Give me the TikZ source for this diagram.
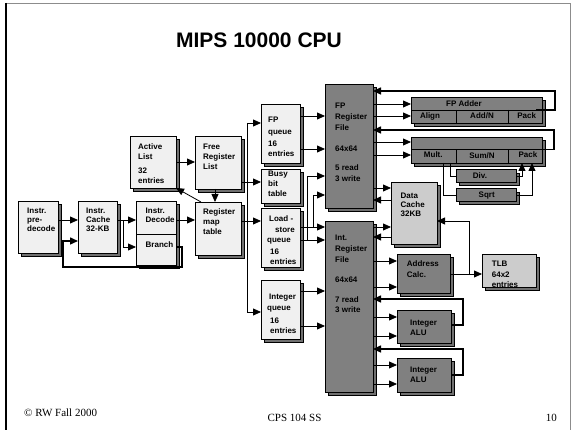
\documentclass[tikz,border=0pt]{standalone}
\usepackage{fontspec}
\setmainfont{Liberation Serif}
\newfontfamily\arialf{Liberation Sans}
\usetikzlibrary{arrows.meta,shadows}
\definecolor{light}{HTML}{F0F0F0}
\definecolor{unit}{HTML}{808080}
\definecolor{shad}{HTML}{707070}
\definecolor{cachec}{HTML}{CCCCCC}
\definecolor{framec}{HTML}{8C8C8C}
\newcommand\mkbox[6]{\node[#6, minimum width={(#4-#2)*1pt}, minimum height={(#5-#3)*1pt}] (#1) at ({(#2+#4)/2},{(#3+#5)/2}) {};}
\newcommand\boxtxt[4]{\node[txt] (#1) at (#2,#3) {\rule{0pt}{5.8pt}#4};}
\begin{document}
\begin{tikzpicture}[x=1pt,y=-1pt,
  base/.style={draw=black, line width=0.6pt, inner sep=0pt, outer sep=0pt},
  shd/.style={general shadow={fill=shad, draw=black, line width=0.6pt, shadow xshift=3.5pt, shadow yshift=-3.5pt}},
  lbox/.style={base, fill=light, shd},
  gbox/.style={base, fill=unit, shd},
  cbox/.style={base, fill=cachec, shd},
  txt/.style={font=\arialf\bfseries\fontsize{8}{10}\selectfont, align=left, inner sep=0pt, anchor=north west},
  ctxt/.style={font=\arialf\bfseries\fontsize{8}{10}\selectfont, inner sep=0pt, anchor=base},
  ln/.style={line width=0.8pt, draw=black},
  fb/.style={line width=1.5pt, draw=black},
  arr/.style={-{Triangle[length=8pt,width=7pt]}},
  foot/.style={font=\fontsize{11}{13}\selectfont, inner sep=0pt}
]
\useasboundingbox (0,0) rectangle (574,430);
% slide frame
\draw[framec, line width=1.5pt] (5.5,430) -- (5.5,3.5) -- (570.5,3.5) -- (570.5,430);
\draw[black, line width=2pt] (5.5,3) -- (5.5,430);

\node[font=\arialf\bfseries\fontsize{21}{24}\selectfont, anchor=base, inner sep=0pt] (title) at (259,47.5) {MIPS 10000 CPU};

% boxes
\mkbox{pre}{18}{201}{58}{253}{lbox}
\mkbox{cache}{78}{201}{117}{253}{lbox}
\mkbox{dec}{136}{201}{176}{265}{lbox}
\mkbox{act}{130}{136}{176}{188}{lbox}
\mkbox{frl}{195}{136}{241}{189}{lbox}
\mkbox{rmt}{195}{202}{241}{255}{lbox}
\mkbox{fpq}{261}{104}{300}{163}{lbox}
\mkbox{bbt}{261}{169}{300}{203}{lbox}
\mkbox{lsq}{261}{208}{300}{267}{lbox}
\mkbox{inq}{261}{280}{300}{339}{lbox}
\mkbox{fpr}{325}{84}{373}{208}{gbox}
\mkbox{inr}{325}{221}{373}{392}{gbox}
\mkbox{fpa}{411}{97}{542}{123}{gbox}
\mkbox{mul}{411}{137}{542}{163}{gbox}
\mkbox{div}{456}{169.5}{516}{182}{gbox}
\mkbox{sqr}{456}{188.5}{516}{201}{gbox}
\mkbox{dc}{391}{182}{437}{244}{cbox}
\mkbox{adr}{397}{254}{450}{293}{gbox}
\mkbox{tlb}{482}{254}{536}{287}{cbox}
\mkbox{alu1}{397}{310}{451}{343}{gbox}
\mkbox{alu2}{397}{358}{451}{392}{gbox}

% dividers
\draw[line width=0.6pt] (dec.west |- 0,234) -- (dec.east |- 0,234);
\draw[line width=0.6pt] (fpa.west |- 0,110) -- (fpa.east |- 0,110);
\draw[line width=0.6pt] (456,110) -- (fpa.south -| 456,0);
\draw[line width=0.6pt] (508,110) -- (fpa.south -| 508,0);
\draw[line width=0.6pt] (mul.west |- 0,149.5) -- (mul.east |- 0,149.5);
\draw[line width=0.6pt] (456,149.5) -- (mul.south -| 456,0);
\draw[line width=0.6pt] (508,149.5) -- (mul.south -| 508,0);

% texts
\boxtxt{tpre}{27}{208}{Instr.\\[-1pt]pre-\\[-1pt]decode}
\boxtxt{tcache}{86}{208}{Instr.\\[-1pt]Cache\\[-1pt]32-KB}
\boxtxt{tdec}{145.5}{208}{Instr.\\[-1pt]Decode}
\boxtxt{tbr}{145.5}{242}{Branch}
\boxtxt{tact}{138}{143.8}{Active\\List\\[4pt]32\\entries}
\boxtxt{tfrl}{203}{143.8}{Free\\Register\\List}
\boxtxt{trmt}{203}{208.8}{Register\\map\\table}
\boxtxt{tfpq}{268}{117}{FP\\[1.7pt]queue\\[1.6pt]16\\[0.7pt]entries}
\boxtxt{tbbt}{268}{170.4}{Busy\\bit\\table}
\boxtxt{tlsq}{267}{215.4}{\hspace{2pt}Load -\\[0.7pt]\hspace{8pt}store\\[0.3pt]queue\\[1.7pt]\hspace{3pt}16\\\hspace{3pt}entries}
\boxtxt{tinq}{267}{293.8}{\hspace{2pt}Integer\\[0.6pt]queue\\[2.7pt]\hspace{3pt}16\\\hspace{3pt}entries}
\boxtxt{tfpr}{335}{103}{FP\\[0.7pt]Register\\[1pt]File\\[10.6pt]64x64\\[9.4pt]5 read\\[1pt]3 write}
\boxtxt{tinr}{335}{234.8}{Int.\\[0.6pt]Register\\[0.7pt]File\\[10.3pt]64x64\\[9.7pt]7 read\\3 write}
\boxtxt{tdc}{400.5}{192.1}{Data\\[-1pt]Cache\\[-0.7pt]32KB}
\boxtxt{tadr}{406.7}{260.4}{Address\\[1pt]Calc.}
\boxtxt{ttlb}{491.7}{260.4}{TLB\\[0.7pt]64x2\\entries}
\boxtxt{talua}{410}{319.8}{Integer\\ALU}
\boxtxt{talub}{410}{366.1}{Integer\\ALU}
\node[ctxt] (tfpa) at (464,106.4) {FP Adder};
\node[ctxt] (talign) at (430,119) {Align};
\node[ctxt] (taddn) at (482,119) {Add/N};
\node[ctxt] (tpacka) at (526.7,119) {Pack};
\node[ctxt] (tmult) at (433.3,158) {Mult.};
\node[ctxt] (tsumn) at (482,158.5) {Sum/N};
\node[ctxt] (tpackb) at (528,157.5) {Pack};
\node[ctxt] (tdiv) at (480,179) {Div.};
\node[ctxt] (tsqrt) at (486.7,198) {Sqrt};

% footer
\node[foot, anchor=base west] (fl) at (24,417) {\textcopyright{} RW Fall 2000};
\node[foot, anchor=base] (fc) at (294.5,422) {CPS 104 SS};
\node[foot, anchor=base east] (fr) at (557,422) {10};

% front end connectors
\draw[ln,arr] (pre.east |- 0,220) -- (cache.west |- 0,220);
\draw[ln,arr] (cache.east |- 0,220) -- (dec.west |- 0,220);
\draw[ln,arr] (cache.east |- 0,220) -- ++(6,0) |- (dec.west |- 0,247);
\draw[fb,arr] (dec.east |- 0,247) -- ++(6,0) -- ++(0,20) -| ([xshift=-15pt]cache.west |- 0,241) -- (cache.west |- 0,241);
\draw[ln,arr] (dec.east |- 0,220) -- (rmt.west |- 0,220);
\draw[ln,arr] (act.east |- 0,162) -- (frl.west |- 0,162);
\draw[ln,arr] ([xshift=6pt]rmt.north west) -- (act.south east);
\draw[ln,arr] ([xshift=-3pt]frl.south) -- ([xshift=-3pt]rmt.north);

% dispatch bus
\coordinate (bt) at (247,123);
\coordinate (bb) at (247,312);
\draw[ln] (bt) -- (bb);
\draw[ln,arr] (rmt.east |- 0,221) -- (lsq.west |- 0,221);
\draw[ln,arr] (bt) -- (fpq.west |- bt);
\draw[ln,arr] (frl.east |- 0,182) -- (bbt.west |- 0,182);
\draw[ln,arr] (bb) -- (inq.west |- bb);

% queues to register files
\draw[ln,arr] (fpq.east |- 0,116) -- (fpr.west |- 0,116);
\draw[ln,arr] (fpq.east |- 0,149) -- (fpr.west |- 0,149);
\draw[ln,arr] (lsq.east |- 0,227) -| ++(13,-32) -- (fpr.west |- 0,195);
\draw[ln,arr] (lsq.east |- 0,240) -| ++(7,-64) -- (fpr.west |- 0,176);
\draw[ln,arr] (lsq.east |- 0,227) -- (inr.west |- 0,227);
\draw[ln,arr] (lsq.east |- 0,240) -- (inr.west |- 0,240);
\draw[ln,arr] (inq.east |- 0,291) -- (inr.west |- 0,291);
\draw[ln,arr] (inq.east |- 0,326) -- (inr.west |- 0,326);

% FP side
\draw[ln,arr] (fpr.east |- 0,104) -- (fpa.west |- 0,104);
\draw[ln,arr] (fpr.east |- 0,116) -- (fpa.west |- 0,116);
\draw[ln,arr] (fpr.east |- 0,142) -- (mul.west |- 0,142);
\draw[ln,arr] (fpr.east |- 0,155) -- (mul.west |- 0,155);
\draw[fb,arr] ([xshift=-6pt]fpa.east |- 0,110) -- ++(19,0) |- (fpr.east |- 0,91);
\draw[fb,arr] ([xshift=-6pt]mul.east |- 0,149.5) -- ++(18,0) |- (fpr.east |- 0,130);
\draw[ln] (mul.south -| 450,0) |- (div.west |- 0,176);
\draw[ln] (mul.south -| 443,0) |- (sqr.west |- 0,195);
\draw[ln,arr] (div.east |- 0,176) -| (mul.south -| 522,0);
\draw[ln,arr] (sqr.east |- 0,195) -| (mul.south -| 532,0);
\draw[ln,arr] (fpr.east |- 0,188) -- (dc.west |- 0,188);
\draw[ln,arr] (dc.west |- 0,200) -- (fpr.east |- 0,200);

% integer side
\draw[ln,arr] (inr.east |- 0,227) -- (dc.west |- 0,227);
\draw[ln,arr] (dc.west |- 0,237) -- (inr.east |- 0,237);
\draw[ln,arr] (inr.east |- 0,261) -- (adr.west |- 0,261);
\draw[ln,arr] (inr.east |- 0,287) -- (adr.west |- 0,287);
\draw[ln,arr] (adr.east |- 0,274) -- (tlb.west |- 0,274);
\draw[ln,arr] (adr.east |- 0,274) -| ++(19,-53) -- (dc.east |- 0,221);
\draw[ln,arr] (inr.east |- 0,317) -- (alu1.west |- 0,317);
\draw[ln,arr] (inr.east |- 0,336) -- (alu1.west |- 0,336);
\draw[ln,arr] (inr.east |- 0,365) -- (alu2.west |- 0,365);
\draw[ln,arr] (inr.east |- 0,384) -- (alu2.west |- 0,384);
\draw[fb,arr] (alu1.east |- 0,325) -- ++(12,0) |- (inr.east |- 0,299);
\draw[fb,arr] (alu2.east |- 0,375) -- ++(12,0) |- (inr.east |- 0,349);
\end{tikzpicture}
\end{document}
